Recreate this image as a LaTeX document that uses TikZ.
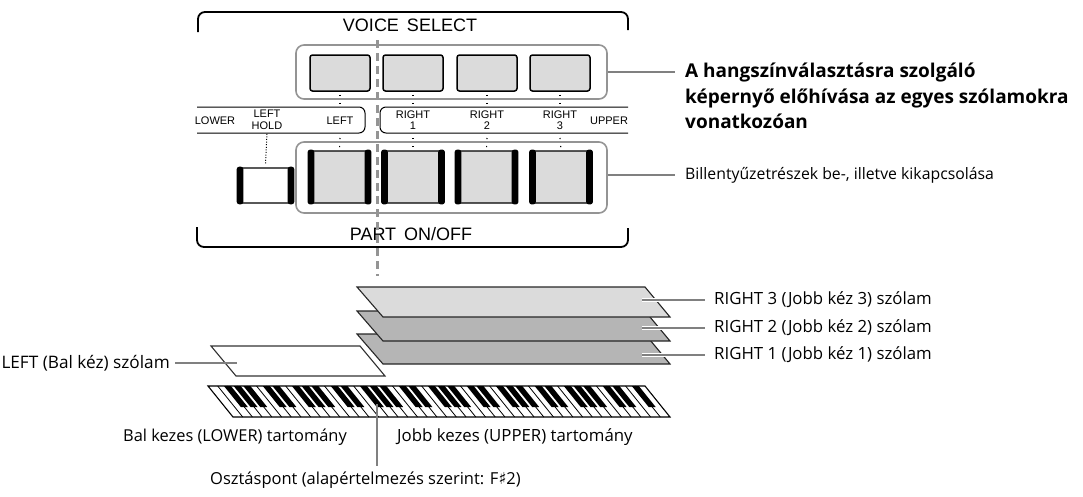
\documentclass[tikz,border=0pt]{standalone}
\usepackage{fontspec}
\setmainfont{Open Sans}
\newfontfamily\panelfont{Liberation Sans}
\newfontfamily\symfont{DejaVu Sans}
\begin{document}
\begin{tikzpicture}[x=1pt,y=-1pt,
  frameline/.style={line width=1.8pt, black, rounded corners=7pt},
  stripline/.style={line width=1pt, black, rounded corners=6pt},
  groupbox/.style={draw=black!42, line width=1.6pt, rounded corners=8pt, inner sep=0pt},
  ubtn/.style={draw=black, fill=black!14, line width=1.5pt, rounded corners=2.5pt,
    minimum width=60pt, minimum height=36pt, inner sep=0pt},
  lbtn/.style={draw=black, fill=black!14, line width=1.4pt, rounded corners=3pt,
    minimum width=61pt, minimum height=52pt, inner sep=0pt},
  holdbtn/.style={draw=black, fill=white, line width=1.2pt, rounded corners=3pt,
    minimum width=55pt, minimum height=35pt, inner sep=0pt},
  paneltitle/.style={font=\panelfont\fontsize{18}{20}\selectfont, inner sep=0pt},
  panellabel/.style={font=\panelfont\fontsize{11}{11.5}\selectfont, align=center, inner sep=0pt},
  dotlink/.style={black, line width=1.1pt, dash pattern=on 1.1pt off 6.9pt},
  holdlink/.style={black, line width=1pt, dash pattern=on 1pt off 1.6pt},
  splitdash/.style={black!42, line width=3pt, dash pattern=on 8pt off 5pt},
  callout/.style={black!50, line width=1.3pt},
  haloline/.style={white, line width=3.5pt},
  desc/.style={font=\fontsize{#1}{18}\selectfont, inner sep=0pt},
  desc/.default=16.5,
  descbold/.style={font=\bfseries\fontsize{19}{25.5}\selectfont, inner sep=0pt, align=left},
  layerlight/.style={fill=black!14, draw=black!85, line width=1.1pt},
  layerdark/.style={fill=black!29, draw=black!85, line width=1.1pt},
  layerleft/.style={fill=white, draw=black!80, line width=1.1pt}
]
\useasboundingbox (0,0) rectangle (1083,496);

% ---------- panel frames ----------
\draw[frameline] (198,32) -- (198,12) -- (628,12) -- (628,30);
\draw[frameline] (197,227) -- (197,247) -- (628,247) -- (628,228);
\node[paneltitle] (vstitle) at (410,25) {VOICE\hspace{8pt}SELECT};
\node[paneltitle] (potitle) at (411,234) {PART\hspace{8pt}ON/OFF};

% ---------- label strips ----------
\draw[stripline] (197,107) -- (365,107) -- (365,133) -- (197,133);
\draw[stripline] (628,107) -- (380,107) -- (380,133) -- (628,133);

% ---------- button groups ----------
\node[groupbox, minimum width=311pt, minimum height=54pt] (vsgroup) at (451.5,72) {};
\node[groupbox, minimum width=311pt, minimum height=71pt] (pogroup) at (451.5,177.5) {};

% voice select buttons
\node[ubtn] (u1) at (340,73) {};
\node[ubtn] (u2) at (413,73) {};
\node[ubtn] (u3) at (487,73) {};
\node[ubtn] (u4) at (560,73) {};

% part on/off buttons with heavy side edges
\node[lbtn] (p1) at (339.5,177) {};
\node[lbtn] (p2) at (413,177) {};
\node[lbtn] (p3) at (486.5,177) {};
\node[lbtn] (p4) at (561,177) {};
\node[holdbtn] (hold) at (265.5,185.5) {};
\foreach \b in {p1,p2,p3,p4,hold} {
  \fill[black, rounded corners=2.5pt] ([xshift=-0.7pt,yshift=0.7pt]\b.north west) rectangle ([xshift=6pt,yshift=-0.7pt]\b.south west);
  \fill[black, rounded corners=2.5pt] ([xshift=0.7pt,yshift=0.7pt]\b.north east) rectangle ([xshift=-6pt,yshift=-0.7pt]\b.south east);
}

% ---------- strip labels ----------
\node[panellabel] (llower) at (215,120.5) {LOWER};
\node[panellabel] (lhold) at (267,120) {LEFT\\HOLD};
\node[panellabel] (lleft) at (340,120.5) {LEFT};
\node[panellabel] (lr1) at (413,120) {RIGHT\\1};
\node[panellabel] (lr2) at (487,120) {RIGHT\\2};
\node[panellabel] (lr3) at (560,120) {RIGHT\\3};
\node[panellabel] (lupper) at (609,120.5) {UPPER};

% dotted links between buttons and strip labels
\foreach \u/\l/\p in {u1/lleft/p1, u2/lr1/p2, u3/lr2/p3, u4/lr3/p4} {
  \draw[dotlink] ([yshift=-3pt]\u.south) -- ([yshift=-1pt]\u.south |- 0,107);
  \draw[dotlink] (\l.south |- 0,138) -- (\p.north);
}
\draw[holdlink] ([yshift=-4pt]lhold.south) -- ([yshift=4pt]hold.north);

% ---------- layer sheets ----------
\draw[layerdark]  (357,334) -- (645,334) -- (670,364) -- (383,364) -- cycle;
\draw[layerdark]  (357,311) -- (645,311) -- (670,341) -- (383,341) -- cycle;
\draw[layerlight] (357,287) -- (645,287) -- (670,317) -- (383,317) -- cycle;
\draw[layerleft]  (211,346) -- (360,346) -- (385,376) -- (236,376) -- cycle;

% ---------- keyboard ----------
\def\kw{9.7111}
\fill[white] (208,386) -- (645,386) -- (670,417) -- (233,417) -- cycle;
\foreach \i in {1,...,44} {
  \pgfmathsetmacro\xt{208+\i*\kw}
  \draw[black, line width=0.8pt] (\xt,386) -- (\xt+25,417);
}
\foreach \j in {0,...,43} {
  \pgfmathtruncatemacro\m{mod(\j,7)}
  \pgfmathsetmacro\xb{208+(\j+1)*\kw}
  \ifnum\m=0 \else\ifnum\m=4 \else
    \fill[black] (\xb-3.5,386) -- (\xb+3.5,386) -- (\xb+3.5+16.9,407) -- (\xb-3.5+16.9,407) -- cycle;
  \fi\fi
}
\draw[black, line width=1.1pt] (208,386) -- (645,386) -- (670,417) -- (233,417) -- cycle;

% ---------- split marker ----------
\draw[splitdash] (377,40) -- (377,276);

% ---------- descriptions ----------
\node[descbold, anchor=west] (vstxt) at (685,96) {A hangszínválasztásra szolgáló\\képernyő előhívása az egyes szólamokra\\vonatkozóan};
\node[desc=15.8, anchor=west] (potxt) at (685,175) {Billentyűzetrészek be-, illetve kikapcsolása};
\draw[callout] (vsgroup.east) -- ([xshift=-10pt]vsgroup.east -| vstxt.west);
\draw[callout] (pogroup.east |- potxt.west) -- ([xshift=-10pt]potxt.west);

\node[desc=16.8, anchor=west] (r3txt) at (714,300) {RIGHT 3 (Jobb kéz 3) szólam};
\node[desc=16.8, anchor=west] (r2txt) at (714,328) {RIGHT 2 (Jobb kéz 2) szólam};
\node[desc=16.8, anchor=west] (r1txt) at (714,355) {RIGHT 1 (Jobb kéz 1) szólam};
\coordinate (r3end) at (642,300);
\coordinate (r2end) at (642,328);
\coordinate (r1end) at (642,355);
\foreach \e/\t in {r3end/r3txt, r2end/r2txt, r1end/r1txt} {
  \draw[haloline] (\e) -- ([xshift=-20pt]\e -| \t.west);
  \draw[callout] (\e) -- ([xshift=-9pt]\t.west);
}

\node[desc=17.2, anchor=east] (lefttxt) at (170,363) {LEFT (Bal kéz) szólam};
\coordinate (leftend) at (237,363);
\draw[callout] ([xshift=5pt]lefttxt.east) -- (leftend);

\node[desc=16.4, anchor=east] (lowtxt) at (347,437) {Bal kezes (LOWER) tartomány};
\node[desc=16.8, anchor=west] (uptxt) at (397,437) {Jobb kezes (UPPER) tartomány};
\node[desc, anchor=west] (splittxt) at (210,480) {Osztáspont (alapértelmezés szerint: F{\symfont ♯}2)};
\coordinate (splitpt) at (377,404);
\draw[callout] (splitpt) -- ([yshift=6pt]splitpt |- splittxt.north);

\end{tikzpicture}
\end{document}
